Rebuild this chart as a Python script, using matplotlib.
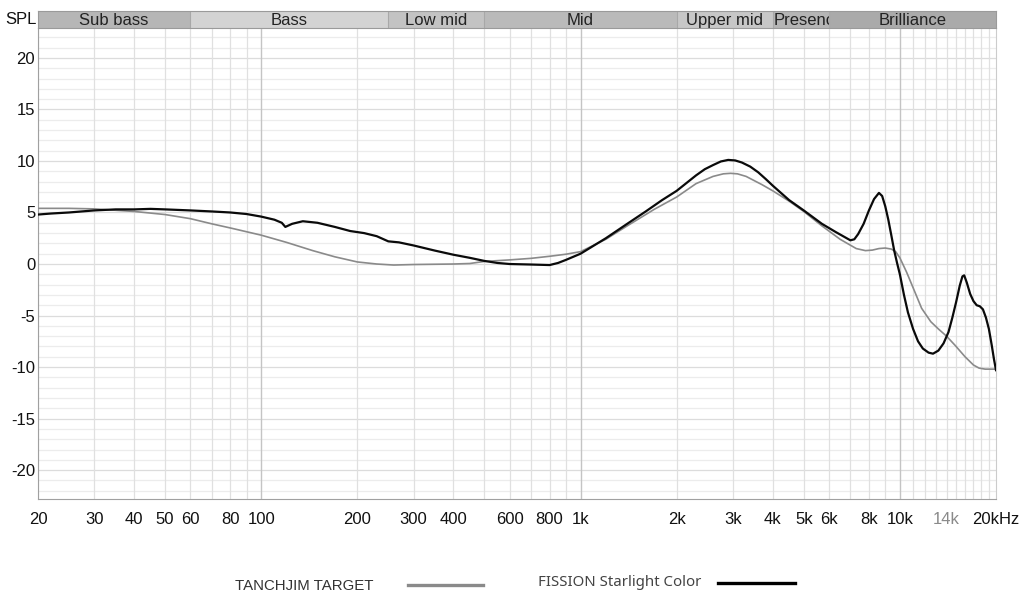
import numpy as np
import matplotlib
matplotlib.use("Agg")
import matplotlib.pyplot as plt
from matplotlib.lines import Line2D
from matplotlib.transforms import Bbox, TransformedBbox

plt.rcParams['font.family'] = ['Liberation Sans', 'DejaVu Sans']

# ── data ───────────────────────────────────────────────────────────
target_freq = [20, 25, 30, 40, 50, 60, 70, 80, 100, 120, 145, 170, 200, 230, 260,
               300, 400, 450, 500, 600, 700, 800, 900, 1000, 1200, 1400, 1700,
               2000, 2300, 2600, 2800, 2950, 3100, 3300, 3700, 4000, 4500, 5000,
               5700, 6500, 7300, 7800, 8200, 8600, 9000, 9400, 9700, 10000, 10500,
               11000, 11700, 12500, 13200, 14000, 14900, 16000, 17000, 17700,
               18500, 20000]
target_db = [5.4, 5.4, 5.35, 5.1, 4.8, 4.4, 3.9, 3.5, 2.8, 2.1, 1.3, 0.7, 0.2, 0.0, -0.1,
             -0.05, 0.0, 0.05, 0.25, 0.4, 0.55, 0.75, 0.95, 1.2, 2.4, 3.7, 5.3,
             6.5, 7.8, 8.5, 8.75, 8.8, 8.75, 8.5, 7.7, 7.1, 6.1, 5.1,
             3.7, 2.4, 1.5, 1.3, 1.35, 1.5, 1.55, 1.45, 1.2, 0.6, -0.8,
             -2.3, -4.3, -5.6, -6.3, -7.0, -7.9, -9.0, -9.8, -10.1,
             -10.2, -10.2]

iem_freq = [20, 22, 25, 30, 35, 40, 45, 50, 60, 70, 80, 90, 100, 110, 116, 119,
            125, 135, 150, 170, 190, 210, 230, 250, 270, 300, 350, 400, 450, 500,
            550, 600, 700, 800, 850, 900, 1000, 1200, 1400, 1600, 1800, 2000,
            2300, 2450, 2600, 2750, 2900, 3050, 3200, 3400, 3600, 3800, 4000,
            4500, 5000, 5700, 6300, 7000, 7200, 7400, 7700, 8000, 8300, 8600,
            8800, 9000, 9200, 9400, 9600, 9800, 10000, 10300, 10600, 11000,
            11400, 11800, 12300, 12700, 13200, 13700, 14200, 14600, 15000,
            15400, 15700, 15900, 16200, 16600, 17000, 17400, 17800, 18200,
            18600, 19000, 19400, 19700, 20000]
iem_db = [4.8, 4.9, 5.0, 5.2, 5.3, 5.3, 5.35, 5.3, 5.2, 5.1, 5.0, 4.85, 4.6, 4.3, 4.0, 3.6,
          3.9, 4.15, 4.0, 3.6, 3.2, 3.0, 2.7, 2.2, 2.1, 1.8, 1.3, 0.9, 0.6, 0.3,
          0.1, 0.0, -0.05, -0.1, 0.1, 0.4, 1.0, 2.5, 3.9, 5.1, 6.2, 7.1,
          8.6, 9.2, 9.6, 9.95, 10.1, 10.05, 9.85, 9.45, 8.9, 8.25, 7.6,
          6.2, 5.2, 3.9, 3.1, 2.3, 2.4, 2.9, 3.9, 5.2, 6.3, 6.9,
          6.6, 5.6, 4.3, 2.8, 1.3, 0.1, -1.0, -3.0, -4.7, -6.3,
          -7.5, -8.2, -8.6, -8.7, -8.4, -7.7, -6.6, -5.2, -3.7,
          -2.1, -1.2, -1.1, -1.8, -2.9, -3.6, -4.0, -4.1, -4.4,
          -5.2, -6.3, -7.9, -9.2, -10.3]

band_names = ['Sub bass', 'Bass', 'Low mid', 'Mid', 'Upper mid', 'Presence', 'Brilliance']
band_edges = [20, 60, 250, 500, 2000, 4000, 6000, 20000]
band_colors = ['#b6b6b6', '#d3d3d3', '#c3c3c3', '#bababa', '#c7c7c7', '#b5b5b5', '#aaaaaa']

xtick_vals = [20, 30, 40, 50, 60, 80, 100, 200, 300, 400, 600, 800, 1000, 2000,
              3000, 4000, 5000, 6000, 8000, 10000, 14000, 20000]
xtick_labels = ['20', '30', '40', '50', '60', '80', '100', '200', '300', '400', '600',
                '800', '1k', '2k', '3k', '4k', '5k', '6k', '8k', '10k', '14k', '20kHz']
ytick_vals = [20, 15, 10, 5, 0, -5, -10, -15, -20]

W, H = 1020, 604
fig = plt.figure(figsize=(W / 100, H / 100), dpi=100)
fig.patch.set_facecolor('white')

x0, x1, ytop, ybot, bandtop = 38, 996, 28, 499, 11
ax = fig.add_axes([x0 / W, (H - ybot) / H, (x1 - x0) / W, (ybot - ytop) / H])
band = fig.add_axes([x0 / W, (H - ytop) / H, (x1 - x0) / W, (ytop - bandtop) / H])

# ── grid ───────────────────────────────────────────────────────────
ax.set_xscale('log')
ax.set_xlim(20, 20000)
ax.set_ylim(-22.8, 22.9)
for db in range(-22, 23):
    c = '#dcdcdc' if db % 5 == 0 else '#ececec'
    ax.axhline(db, color=c, lw=0.9, zorder=0)
grid_f = []
for dec in (10, 100, 1000):
    grid_f += [dec * k for k in range(2, 10)]
grid_f += [10000 + 1000 * k for k in range(1, 10)]
for f in grid_f:
    if f >= 20:
        ax.axvline(f, color='#e0e0e0', lw=0.9, zorder=0)
for f in (100, 1000, 10000):
    ax.axvline(f, color='#c4c4c4', lw=1.0, zorder=0)

# ── curves ─────────────────────────────────────────────────────────
ax.plot(target_freq, target_db, color='#8a8a8a', lw=1.2, zorder=3)
ax.plot(iem_freq, iem_db, color='#0a0a0a', lw=1.6, zorder=4)

# ── axes / ticks ───────────────────────────────────────────────────
ax.set_xticks(xtick_vals)
ax.set_xticklabels(xtick_labels)
ax.xaxis.set_minor_locator(matplotlib.ticker.NullLocator())
ax.set_yticks(ytick_vals)
ax.set_yticklabels([str(v) for v in ytick_vals])
ax.tick_params(axis='both', length=0, labelsize=12, colors='#111111')
ax.tick_params(axis='x', pad=9)
ax.tick_params(axis='y', pad=2)
for lbl in ax.get_xticklabels():
    if lbl.get_text() == '14k':
        lbl.set_color('#8a8a8a')
ax.spines['top'].set_visible(False)
ax.spines['left'].set_color('#a0a0a0')
ax.spines['bottom'].set_color('#a0a0a0')
ax.spines['right'].set_color('#cccccc')

# ── frequency band strip ───────────────────────────────────────────
band.set_xscale('log')
band.set_xlim(20, 20000)
band.set_ylim(0, 1)
band.set_xticks([])
band.set_yticks([])
band.xaxis.set_minor_locator(matplotlib.ticker.NullLocator())
for s in band.spines.values():
    s.set_color('#9a9a9a')
    s.set_linewidth(0.8)
for i, name in enumerate(band_names):
    lo, hi = band_edges[i], band_edges[i + 1]
    band.axvspan(lo, hi, color=band_colors[i], lw=0)
    if i > 0:
        band.axvline(lo, color='#a8a8a8', lw=0.8)
    if name == 'Presence':
        t = band.text(lo * 1.005, 0.42, name, ha='left', va='center', fontsize=12,
                      color='#222222')
    else:
        t = band.text(np.sqrt(lo * hi), 0.42, name, ha='center', va='center',
                      fontsize=12, color='#222222')
    t.set_clip_box(TransformedBbox(Bbox([[lo, 0], [hi, 1]]), band.transData))
    t.set_clip_on(True)

fig.text(5 / W, 1 - 20 / H, 'SPL', ha='left', va='center', fontsize=12, color='#111111')

# ── legend ─────────────────────────────────────────────────────────
fig.text(235 / W, 1 - 586 / H, 'TANCHJIM TARGET', ha='left', va='center',
         fontsize=10.8, color='#333333')
fig.add_artist(Line2D([408 / W, 483 / W], [1 - 585 / H, 1 - 585 / H],
                      color='#8a8a8a', lw=2.4, transform=fig.transFigure))
fig.text(538 / W, 1 - 582 / H, 'FISSION Starlight Color', ha='left', va='center',
         fontsize=10.8, color='#444444', family=['Noto Sans', 'DejaVu Sans'])
fig.add_artist(Line2D([718 / W, 795 / W], [1 - 583 / H, 1 - 583 / H],
                      color='#000000', lw=2.4, transform=fig.transFigure))

fig.savefig('out.png', dpi=100)
